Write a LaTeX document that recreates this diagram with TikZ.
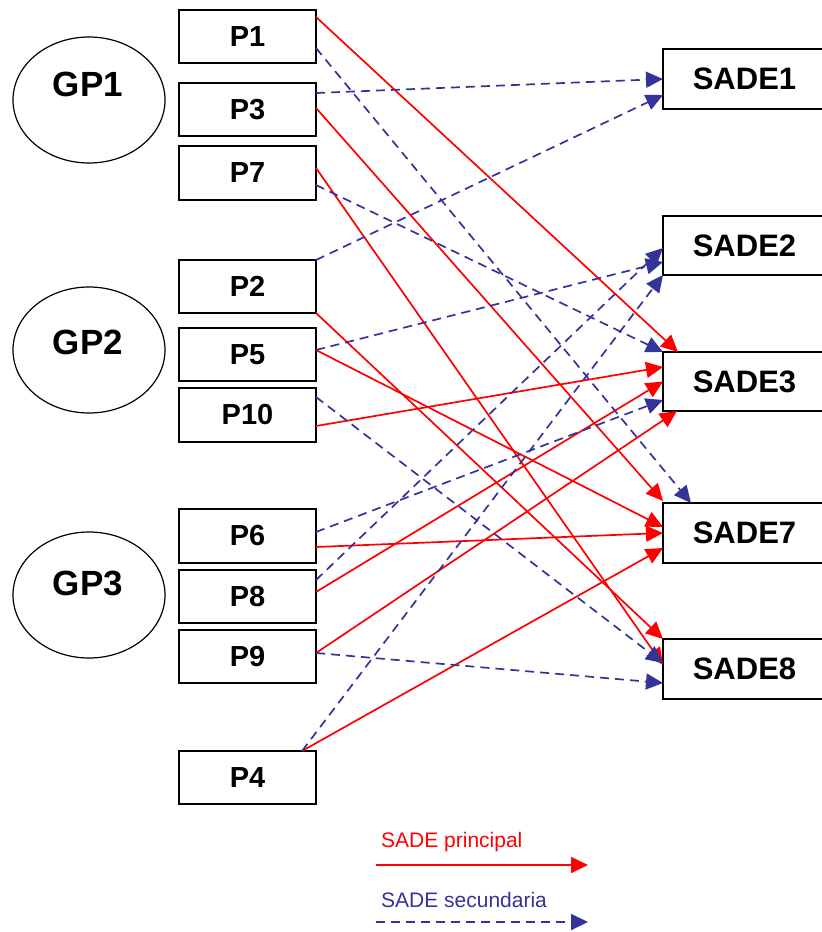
\documentclass[tikz,border=0pt]{standalone}
\usepackage{fontspec}
\setmainfont{Liberation Sans}
\usetikzlibrary{arrows.meta,calc,shapes.geometric}
\definecolor{sadered}{RGB}{255,0,0}
\definecolor{sadeblue}{RGB}{51,51,153}
\begin{document}
\begin{tikzpicture}[x=1pt,y=-1pt,
 pbox/.style={draw=black,line width=2pt,minimum width=137pt,minimum height=53pt,inner sep=0pt,outer sep=0pt,font=\fontsize{29}{30}\selectfont\bfseries},
 sbox/.style={draw=black,line width=2pt,minimum width=163pt,minimum height=60pt,inner sep=0pt,outer sep=0pt,font=\fontsize{31}{33}\selectfont\bfseries},
 gp/.style={draw=black,ellipse,line width=1.2pt,minimum width=152pt,minimum height=126pt,inner sep=0pt},
 gptext/.style={font=\fontsize{35}{36}\selectfont\bfseries,inner sep=0pt},
 prin/.style={draw=sadered,line width=1.7pt,-{Triangle[length=17pt,width=16pt]}},
 sec/.style={draw=sadeblue,line width=1.7pt,dash pattern=on 9pt off 6pt,-{Triangle[length=17pt,width=16pt]}},
 legtext/.style={font=\fontsize{21}{23}\selectfont,inner sep=0pt,anchor=base west}
]
\useasboundingbox (0,0) rectangle (822,932);

% groups
\node[gp] (GP1) at (89,100) {};
\node[gp] (GP2) at (89,350) {};
\node[gp] (GP3) at (89,595) {};
\node[gptext] (GP1t) at (88,84) {GP1};
\node[gptext] (GP2t) at (88,342) {GP2};
\node[gptext] (GP3t) at (88,583) {GP3};

% P boxes
\node[pbox] (P1) at (247.5,36.5) {P1};
\node[pbox] (P3) at (247.5,109.5) {P3};
\node[pbox,minimum height=54pt] (P7) at (247.5,173) {P7};
\node[pbox] (P2) at (247.5,286.5) {P2};
\node[pbox] (P5) at (247.5,354.5) {P5};
\node[pbox,minimum height=54pt] (P10) at (247.5,415) {P10};
\node[pbox,minimum height=54pt] (P6) at (247.5,536) {P6};
\node[pbox] (P8) at (247.5,596.5) {P8};
\node[pbox] (P9) at (247.5,656.5) {P9};
\node[pbox] (P4) at (247.5,777.5) {P4};

% SADE boxes
\node[sbox] (S1) at (744.5,79) {SADE1};
\node[sbox,minimum height=59pt] (S2) at (744.5,245.5) {SADE2};
\node[sbox,minimum height=59pt] (S3) at (744.5,381.5) {SADE3};
\node[sbox] (S7) at (744.5,533) {SADE7};
\node[sbox] (S8) at (744.5,669) {SADE8};

% principal (red)
\draw[prin] ($(P1.north east)+(0,7)$) -- ($(S3.north west)+(15,0)$);
\draw[prin] ($(P3.east)+(0,-1.5)$) -- ($(S7.north west)+(0,-2)$);
\draw[prin] ($(P7.east)+(0,-5)$) -- ($(S8.west)+(0,-4)$);
\draw[prin] (P2.south east) -- (S8.north west);
\draw[prin] ($(P5.east)+(0,-4.5)$) -- ($(S7.west)+(0,-6)$);
\draw[prin] ($(P10.east)+(0,11)$) -- ($(S3.west)+(0,-14.5)$);
\draw[prin] ($(P6.east)+(0,11)$) -- (S7.west);
\draw[prin] ($(P8.east)+(0,-4.5)$) -- (S3.west);
\draw[prin] ($(P9.east)+(0,-3.5)$) -- ($(S3.south west)+(14,0)$);
\draw[prin] ($(P4.north)+(54.5,0)$) -- ($(S7.west)+(0,15)$);

% secundaria (blue)
\draw[sec] ($(P1.east)+(0,11.5)$) -- ($(S7.north west)+(28,0)$);
\draw[sec] ($(P3.east)+(0,-16.5)$) -- (S1.west);
\draw[sec] ($(P7.east)+(0,12)$) -- (S3.north west);
\draw[sec] (P2.north east) -- ($(S1.west)+(0,16)$);
\draw[sec] ($(P5.east)+(0,-4.5)$) -- ($(S2.west)+(0,16.5)$);
\draw[sec] ($(P10.east)+(0,-18)$) -- ($(S8.west)+(0,-6)$);
\draw[sec] ($(P6.east)+(0,-4)$) -- ($(S3.west)+(0,18.5)$);
\draw[sec] ($(P8.east)+(0,-16.5)$) -- ($(S2.west)+(0,2.5)$);
\draw[sec] ($(P9.east)+(0,-3.5)$) -- ($(S8.west)+(0,14)$);
\draw[sec] ($(P4.north)+(54.5,0)$) -- (S2.south west);

% legend
\node[legtext,text=sadered] (legP) at (381,847) {SADE principal};
\node[legtext,text=sadeblue] (legS) at (381,907) {SADE secundaria};
\coordinate (lp1) at (376,865);
\coordinate (lp2) at (588,865);
\coordinate (ls1) at (376,922);
\coordinate (ls2) at (588,922);
\draw[prin] (lp1) -- (lp2);
\draw[sec] (ls1) -- (ls2);
\end{tikzpicture}
\end{document}
